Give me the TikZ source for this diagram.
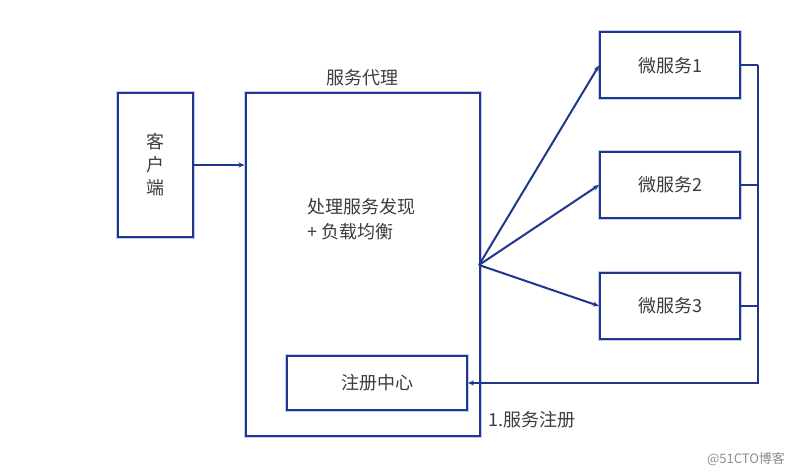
\documentclass[tikz,border=0pt]{standalone}
\usepackage{fontspec}
\setmainfont{Noto Sans CJK SC}
\usetikzlibrary{arrows.meta}
\definecolor{ln}{RGB}{30,55,140}
\definecolor{glow}{RGB}{190,205,240}
\definecolor{tx}{RGB}{60,60,60}
\begin{document}
\begin{tikzpicture}[x=1pt,y=-1pt,
  boxst/.style={draw=ln,line width=2pt,fill=white,inner sep=0pt,
    preaction={draw=glow,line width=4pt}},
  conn/.style={draw=ln,line width=2pt},
  arr/.style={conn,-{Stealth[length=6pt,width=5pt]}},
  lbl/.style={text=tx,font=\fontsize{18}{22}\selectfont,inner sep=0pt}]
\useasboundingbox (0,0) rectangle (808,476);
% boxes
\node[boxst,minimum width=75pt,minimum height=144pt] (client) at (155.5,165) {};
\node[lbl,align=center] at (client.center) {客\\[1pt]户\\[1pt]端};
\node[boxst,minimum width=234pt,minimum height=343pt] (proxy) at (362.5,264.5) {};
\node[lbl] (ptitle) at (362,78) {服务代理};
\node[lbl,align=left,anchor=west] (ptext) at (307,219) {处理服务发现\\[3pt]+ 负载均衡};
\node[boxst,minimum width=180pt,minimum height=54pt] (reg) at (377,383) {};
\node[lbl] at (reg.center) {注册中心};
\node[boxst,minimum width=140pt,minimum height=66pt] (m1) at (670,65.5) {};
\node[lbl] at (m1.center) {微服务1};
\node[boxst,minimum width=140pt,minimum height=66pt] (m2) at (670,185) {};
\node[lbl] at (m2.center) {微服务2};
\node[boxst,minimum width=140pt,minimum height=66pt] (m3) at (670,306) {};
\node[lbl] at (m3.center) {微服务3};
\node[lbl,anchor=west] (note) at (488,420) {1.服务注册};
\node[text=black!45,font=\fontsize{13}{15}\selectfont,inner sep=0pt] (wm) at (746,459) {@51CTO博客};
% connectors
\coordinate (fan) at (479,265);
\coordinate (rx) at (758,383);
\draw[arr] (client.east) -- (proxy.west |- client.east);
\draw[arr] (fan) -- (m1.west);
\draw[arr] (fan) -- (m2.west);
\draw[arr] (fan) -- (m3.west);
\draw[conn] (m1.east) -- (m1.east -| rx);
\draw[conn] (m2.east) -- (m2.east -| rx);
\draw[conn] (m3.east) -- (m3.east -| rx);
\draw[arr] (m1.east -| rx) -- (rx) -- (reg.east);
\end{tikzpicture}
\end{document}
